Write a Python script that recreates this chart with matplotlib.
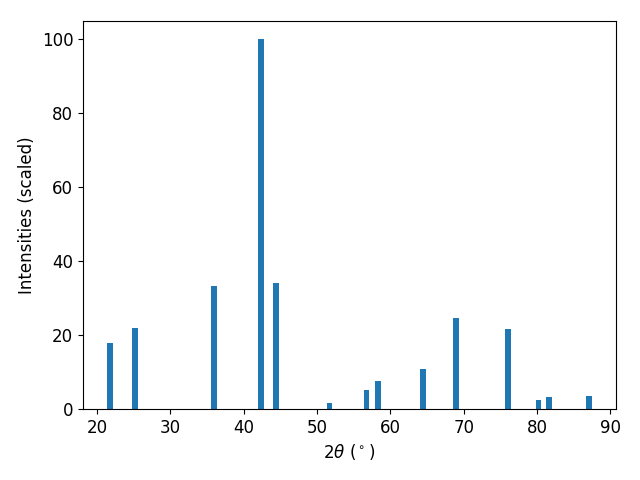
import matplotlib
matplotlib.use("Agg")
import matplotlib.pyplot as plt

two_theta = [21.77, 25.17, 35.92, 42.31, 44.35, 51.7, 56.73, 58.27, 64.5, 69.0, 76.05, 80.2, 81.6, 87.07]
intensity = [17.9, 22.0, 33.3, 100.0, 34.2, 1.6, 5.2, 7.6, 10.9, 24.5, 21.7, 2.4, 3.3, 3.5]

fig, ax = plt.subplots(figsize=(6.4, 4.8), dpi=100)
ax.bar(two_theta, intensity, width=0.8, color="#1f77b4")
ax.set_xlabel(r"$2\theta$ ($^\circ$)", fontsize=12)
ax.set_ylabel("Intensities (scaled)", fontsize=12)
ax.tick_params(labelsize=12)
fig.subplots_adjust(left=83/640, right=616/640, top=1-21/480, bottom=1-409/480)
fig.savefig("out.png")
